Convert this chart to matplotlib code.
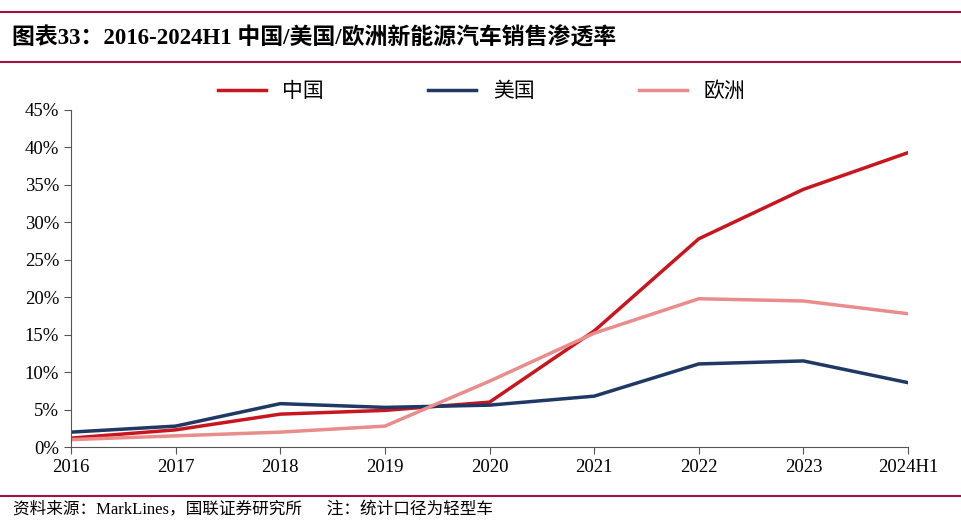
import matplotlib.pyplot as plt
from matplotlib.lines import Line2D

plt.rcParams['font.family'] = ['Liberation Serif', 'Noto Sans CJK SC']

years = ['2016', '2017', '2018', '2019', '2020', '2021', '2022', '2023', '2024H1']
china = [1.2, 2.3, 4.4, 4.9, 6.0, 15.5, 27.8, 34.4, 39.3]
usa = [2.0, 2.8, 5.8, 5.3, 5.6, 6.8, 11.1, 11.5, 8.6]
europe = [1.0, 1.5, 2.0, 2.8, 8.8, 15.2, 19.8, 19.5, 17.8]

c_cn = '#C8161E'
c_us = '#1F3864'
c_eu = '#E98C8C'
frame = '#A3123F'

fig = plt.figure(figsize=(9.61, 5.31), dpi=100)
ax = fig.add_axes([0.0739, 0.158, 0.871, 0.635])

x = range(len(years))
ax.plot(x, china, color=c_cn, lw=2.5, label='中国')
ax.plot(x, usa, color=c_us, lw=2.5, label='美国')
ax.plot(x, europe, color=c_eu, lw=2.5, label='欧洲')

ax.set_xlim(0, len(years) - 1)
ax.set_ylim(0, 45)
ax.set_xticks(list(x))
ax.set_xticklabels(years)
ax.set_yticks(range(0, 46, 5))
ax.set_yticklabels([f'{v}%' for v in range(0, 46, 5)])
for s in ['top', 'right']:
    ax.spines[s].set_visible(False)
for s in ['left', 'bottom']:
    ax.spines[s].set_color('#555555')
ax.tick_params(colors='#555555', labelcolor='black', labelsize=13.5, length=5)

handles = [Line2D([], [], color=c, lw=2.5) for c in (c_cn, c_us, c_eu)]
fig.legend(handles, ['中国', '美国', '欧洲'], loc='center', bbox_to_anchor=(0.501, 0.828),
           ncol=3, frameon=False, handlelength=2.3, columnspacing=5.0,
           prop={'family': 'Noto Sans CJK SC', 'size': 15})

# header and footer rules
for yy in (1 - 12 / 531, 1 - 62 / 531, 1 - 496 / 531):
    fig.add_artist(Line2D([0, 1], [yy, yy], color=frame, lw=1.5))

fig.text(0.012, 1 - 38 / 531, '图表33：2016-2024H1 中国/美国/欧洲新能源汽车销售渗透率',
         fontsize=16.5, fontweight='bold', va='center', ha='left',
         family=['Liberation Serif', 'Noto Sans CJK SC'])
fig.text(0.014, 1 - 510 / 531, '资料来源：MarkLines，国联证券研究所      注：统计口径为轻型车',
         fontsize=12, va='center', ha='left',
         family=['Liberation Serif', 'Noto Sans CJK SC'])

fig.savefig('out.png', dpi=100)
